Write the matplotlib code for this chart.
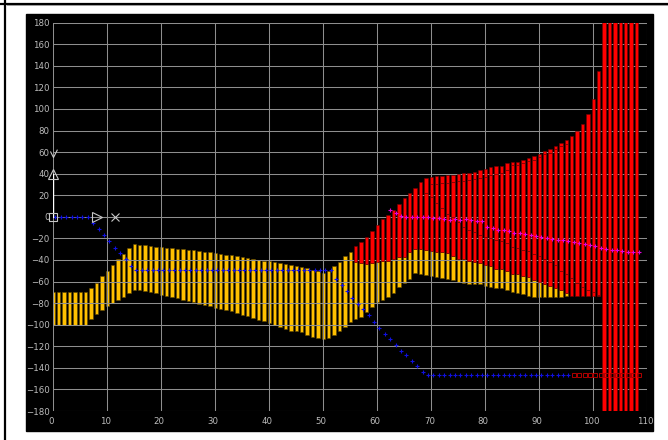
import numpy as np
import matplotlib
matplotlib.use("Agg")
import matplotlib.pyplot as plt
from matplotlib.patches import Rectangle
from matplotlib.lines import Line2D
from matplotlib.path import Path
from matplotlib.transforms import ScaledTranslation

# ---- yellow range bars (x = 0 .. 95) ----
yellow_x = list(range(0, 96))
yellow_top = [-70, -70, -70, -70, -70, -70, -70, -66, -61.5, -55,
              -50, -44.5, -39.5, -34.5, -29, -25.5, -26, -26.5, -27, -27.5,
              -28, -28.5, -29, -29.5, -30, -30.5, -31, -31.3, -32.2, -33,
              -33.4, -34.4, -35.3, -35.5, -36.5, -37.5, -38, -38.7, -39.6, -40.5,
              -41, -41.5, -42.7, -44, -44.9, -45.8, -46.4, -47.7, -48.9, -49.8,
              -52, -50.5, -46, -41.5, -36.5, -32.2, -42, -42.5, -43.5, -42.5,
              -41.5, -41, -40.5, -39, -37.5, -36.8, -32.8, -29.7, -29.7, -30.6,
              -31.3, -32.2, -32.8, -33.7, -35.9, -39, -39.3, -40.5, -42, -43,
              -44.3, -45.2, -48.3, -48.3, -50.5, -52.9, -52.9, -54.5, -56, -58.5,
              -60.7, -62.2, -63.7, -65.9, -67.7, -70.9]
yellow_bottom = [-100, -100, -100, -100, -100, -100, -100, -95, -90.5, -86.5,
                 -83, -80, -77, -74, -71, -67.5, -68, -69, -70, -71,
                 -72, -73, -74, -75.5, -77, -78, -79, -80.7, -81.7, -83,
                 -84.5, -85.7, -86.6, -87.6, -89.4, -90.6, -91.6, -93.7, -95.6, -96.8,
                 -98.7, -99.9, -101.8, -104, -105.5, -106.1, -107.1, -109.9, -111.7, -112.3,
                 -113.6, -112.3, -109.2, -105.5, -101.8, -97.8, -94.6, -92.5, -88.5, -84,
                 -79.2, -77, -74, -70.5, -65.3, -61, -57.5, -52.3, -53, -53.5,
                 -54.5, -55.4, -56.6, -57.9, -59, -60.7, -61.6, -62.2, -62.5, -62.2,
                 -63.7, -64.7, -66.2, -66.2, -67.8, -70, -70.9, -71.5, -73, -74.6,
                 -74.6, -74.6, -74.6, -74.6, -74.6, -73.6]

# ---- red range bars (x = 56 .. 108), split into stacked segments ----
red_x = list(range(56, 109))
red_base = yellow_top[56:96] + [-73] * 6 + [-190] * 7
red_top = [-27, -23.5, -19, -13, -8, -2, 2, 6, 12, 17.5,
           22, 27, 32, 36, 37.4, 37.6, 38, 38.5, 39.2, 40,
           40.5, 41, 42, 43, 44, 46, 47, 47.6, 49.7, 50.7,
           51.3, 53, 54.7, 56, 58.4, 61, 62.5, 65.5, 68.3, 70.8,
           75.4, 80, 86.2, 95.6, 108.8, 135,
           190, 190, 190, 190, 190, 190, 190]
nan = float("nan")
red_mid = [nan] * 13 + [22, 18, 13, 8, 3, 0, -5, -9, -12, -14,
                        -17, -19, -20, -21, -22, -24, -28, -29, -31, -32,
                        -34, -36, -39, -42, -45, -50, -53, -57, -61, -65,
                        -68, -70, -72] + [nan] * 7
red_upper = [nan] * 14 + [30, 30.5, 31, 31.5, 32, 33, 33.5, 34, 35, 36,
                          37, 39, 40, 41, 43, 47.7, 48.3, 50, 51.7, 53,
                          55.4, 58, 59.5, 62.5, 65.3, 67.8] + [nan] * 13

# ---- track markers ----
blue_x = [k + 0.4 for k in range(0, 96)]
blue_y = ([0] * 7 +
          [-5.3, -11.4, -17, -22, -28.5, -33.7, -39, -45.7] +
          [-49.5] * 37 +
          [-57.8, -63.4, -68.6, -74.8, -80.6, -85.6, -91, -97.7, -103, -108.5,
           -113, -118.7, -124, -128, -133.9, -138.2, -143.8] +
          [-147] * 27)
magenta_x = [k + 0.4 for k in range(62, 109)]
magenta_y = [6.5, 3.7, 1, 0, 0, 0, -0.5, -0.5, -1, -1.5,
             -2, -2.5, -2, -2.5, -2, -3, -3.5, -4, -9.5, -10.5,
             -12.4, -12.4, -13.3, -15, -15, -15.5, -17, -18, -18.5, -19.5,
             -20.5, -21, -21.6, -22.5, -23.5, -24.4, -25.3, -26.3, -27.2, -28.5,
             -29.5, -30.3, -31, -31.5, -32.7, -32.7, -32.7]
square_x = [k + 0.4 for k in range(96, 109)]
square_y = [-147] * 13

# ---- symbols along the left edge ----
icon_x = [0, 0, 0, 8, 11.5]
icon_y = [58, 40, 0, 0, 0]
x_ticks = list(range(0, 111, 10))
y_ticks = list(range(-180, 181, 20))

W, H, DPI = 668, 440, 100
fig = plt.figure(figsize=(W / DPI, H / DPI), dpi=DPI, facecolor="white")

# dark panel behind the plot and window frame lines
fig.patches.append(Rectangle((26 / W, 9 / H), 627 / W, 417 / H,
                             transform=fig.transFigure, color="black", zorder=-5))
fig.lines.append(Line2D([5 / W, 5 / W], [0, 1], transform=fig.transFigure,
                        color="black", lw=1.6, zorder=-5))
fig.lines.append(Line2D([0, 1], [436 / H, 436 / H], transform=fig.transFigure,
                        color="black", lw=1.6, zorder=-5))
fig.lines.append(Line2D([6.5 / W, 1], [434.5 / H, 434.5 / H], transform=fig.transFigure,
                        color="#9a9a9a", lw=0.7, zorder=-5))

ax = fig.add_axes([53.3 / W, 29 / H, 594 / W, 388.3 / H])
ax.set_zorder(1)
ax.set_facecolor("black")
ax.set_xlim(0, 110)
ax.set_ylim(-180, 180)
ax.set_xticks(x_ticks)
ax.set_yticks(y_ticks)
ax.set_axisbelow(False)
ax.grid(True, color="#8e8e8e", lw=0.75)
for gl in ax.get_xgridlines() + ax.get_ygridlines():
    gl.set_zorder(4)
for s in ax.spines.values():
    s.set_visible(False)
ax.tick_params(length=0, colors="#bdbdbd", labelsize=6.2)
ax.tick_params(axis="y", pad=2.5)
ax.tick_params(axis="x", pad=4)
for lab in ax.get_xticklabels():
    lab.set_transform(lab.get_transform() + ScaledTranslation(-2 / DPI, 0, fig.dpi_scale_trans))

BW = 0.62
yt = np.array(yellow_top)
yb = np.array(yellow_bottom)
ax.bar(yellow_x, yt - yb, bottom=yb, width=BW, color="#ffc000",
       edgecolor="#5e4600", linewidth=0.4, zorder=2)

# red bars: draw each stacked segment between consecutive boundaries
seg_x, seg_b, seg_h = [], [], []
for i, x in enumerate(red_x):
    bounds = [red_base[i]]
    for v in (red_mid[i], red_upper[i]):
        if not np.isnan(v):
            bounds.append(v)
    bounds.append(red_top[i])
    for lo, hi in zip(bounds[:-1], bounds[1:]):
        seg_x.append(x)
        seg_b.append(lo)
        seg_h.append(hi - lo)
ax.bar(seg_x, seg_h, bottom=seg_b, width=BW, color="#ff0000",
       edgecolor="#700000", linewidth=0.4, zorder=3)

ax.plot(blue_x, blue_y, ls="none", marker="+", ms=3, mew=0.8,
        color="#1010e0", zorder=5)
ax.plot(magenta_x, magenta_y, ls="none", marker="+", ms=3, mew=0.8,
        color="#e000e0", zorder=5)
ax.plot(square_x, square_y, ls="none", marker="s", ms=2.3, mew=0.7,
        mfc="none", color="#b00000", zorder=5)

# left-edge symbols
icon_col = "#c8c8c8"
vmark = Path([(-1, 1), (0, -1), (1.3, 1.6)], [Path.MOVETO, Path.LINETO, Path.LINETO])
ax.plot([icon_x[0]], [icon_y[0]], marker=vmark, ms=7, mew=0.8, mfc="none",
        color=icon_col, ls="none", zorder=6, clip_on=False)
ax.plot([icon_x[1]], [icon_y[1]], marker="^", ms=7, mew=0.8, mfc="none",
        color=icon_col, ls="none", zorder=6, clip_on=False)
ax.plot([0, 0], [icon_y[2], icon_y[1]], color="white", lw=1.0, zorder=5)
ax.plot([icon_x[2]], [icon_y[2]], marker="s", ms=6, mew=0.8, mfc="none",
        color=icon_col, ls="none", zorder=6, clip_on=False)
ax.plot([icon_x[3]], [icon_y[3]], marker=">", ms=7, mew=0.8, mfc="none",
        color=icon_col, ls="none", zorder=6)
ax.plot([icon_x[4]], [icon_y[4]], marker="x", ms=6, mew=0.8,
        color=icon_col, ls="none", zorder=6)

fig.savefig("out.png", dpi=DPI, facecolor="white")
